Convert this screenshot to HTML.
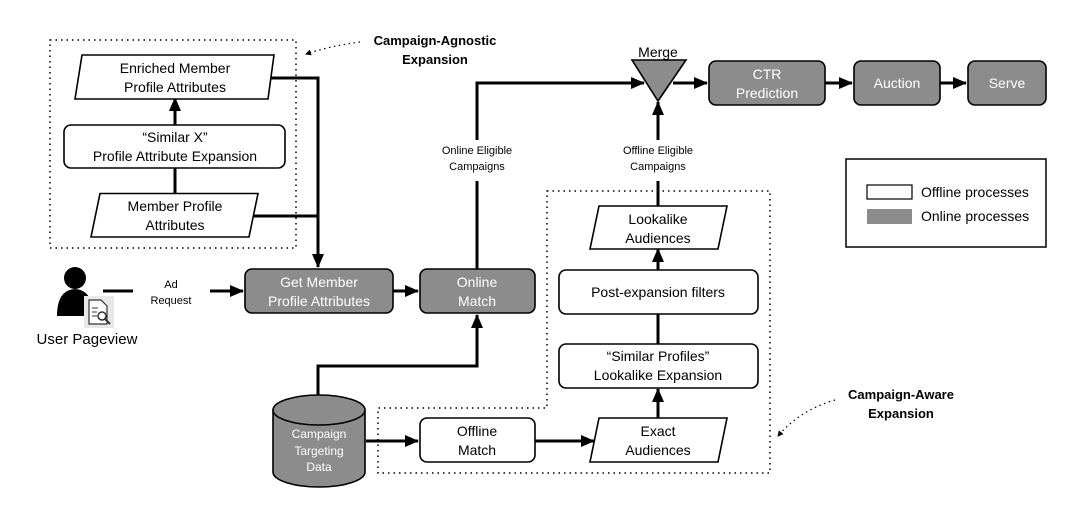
<!DOCTYPE html>
<html><head><meta charset="utf-8"><style>
html,body{margin:0;padding:0;background:#fff;}
svg{display:block;}
text{font-family:"Liberation Sans",sans-serif;}
</style></head><body>
<svg width="1080" height="510" viewBox="0 0 1080 510" xmlns="http://www.w3.org/2000/svg">
<defs>
<marker id="a" markerWidth="14" markerHeight="12" refX="13" refY="6" orient="auto" markerUnits="userSpaceOnUse" viewBox="0 0 14 12">
<path d="M0,0 L14,6 L0,12 z" fill="#000"/></marker>
<marker id="s" markerWidth="6" markerHeight="6" refX="5" refY="3" orient="auto" markerUnits="userSpaceOnUse" viewBox="0 0 6 6">
<path d="M0,0 L6,3 L0,6 z" fill="#000"/></marker>
</defs>
<g fill="none" stroke="#000" stroke-width="1.5" stroke-dasharray="1.5 4">
<rect x="50" y="40" width="246" height="208"/>
<path d="M547,191 H770 V473 H378 V408 H547 z"/>
</g>
<g fill="none" stroke="#000" stroke-width="1.2" stroke-dasharray="1.5 3.5">
<path d="M360,42 Q330,46 306,54" marker-end="url(#s)"/>
<path d="M835,400 Q800,410 778,436" marker-end="url(#s)"/>
</g>
<g stroke="#000" stroke-width="3" fill="none">
<path d="M270,78 H318 V267" marker-end="url(#a)"/>
<path d="M250,216 H318"/>
<path d="M175,193 V124" marker-end="url(#a)"/>
<path d="M175,125 V98" marker-end="url(#a)"/>
<path d="M103,291 H133"/>
<path d="M210,291 H243" marker-end="url(#a)"/>
<path d="M393,291 H418" marker-end="url(#a)"/>
<path d="M477,269 V181"/>
<path d="M477,140 V83 H644" marker-end="url(#a)"/>
<path d="M318,395 V366 H477 V315" marker-end="url(#a)"/>
<path d="M366,441 H418" marker-end="url(#a)"/>
<path d="M535,441 H594" marker-end="url(#a)"/>
<path d="M658,418 V389" marker-end="url(#a)"/>
<path d="M658,344 V314"/>
<path d="M658,270 V249" marker-end="url(#a)"/>
<path d="M658,206 V181"/>
<path d="M658,140 V102" marker-end="url(#a)"/>
<path d="M673,83 H707" marker-end="url(#a)"/>
<path d="M825,83 H852" marker-end="url(#a)"/>
<path d="M940,83 H966" marker-end="url(#a)"/>
</g>
<g stroke="#000" stroke-width="1.6" fill="#fff">
<path d="M82,55 H274 L268,99 H75 z"/>
<rect x="64" y="125" width="221" height="43" rx="7"/>
<path d="M100,193.5 H258 L249,237 H91 z"/>
<path d="M599,206 H727 L718,249 H590 z"/>
<rect x="559" y="270" width="199" height="44" rx="7"/>
<rect x="559" y="344" width="199" height="44" rx="7"/>
<path d="M599,418 H727 L718,462 H590 z"/>
<rect x="420" y="418" width="115" height="44" rx="7"/>
</g>
<g stroke="#000" stroke-width="1.6" fill="#8c8c8c">
<rect x="245" y="269" width="148" height="44" rx="7"/>
<rect x="420" y="269" width="115" height="44" rx="7"/>
<rect x="709" y="61" width="116" height="44" rx="7"/>
<rect x="854" y="61" width="86" height="44" rx="7"/>
<rect x="968" y="61" width="78" height="44" rx="7"/>
<path d="M632,60 H686 L658,101 z"/>
<path d="M273,410 V472 A46,15 0 0 0 365,472 V410"/>
<ellipse cx="319" cy="410" rx="46" ry="15"/>
</g>
<rect x="846" y="159" width="200" height="88" fill="#fff" stroke="#000" stroke-width="1.5"/>
<rect x="867" y="185" width="45" height="14" fill="#fff" stroke="#000" stroke-width="1.2"/>
<rect x="867" y="209" width="45" height="15" fill="#8c8c8c"/>
<circle cx="75" cy="278" r="11" fill="#000"/>
<path d="M57,316 Q57,290 75,289 Q93,290 93,316 z" fill="#000"/>
<rect x="84" y="296" width="30" height="32" fill="#e8e8e8"/>
<path d="M89,300 H101 L107,306 V324 H89 z" fill="#fff" stroke="#333" stroke-width="1.2"/>
<path d="M92,308 H98 M92,312 H97 M92,316 H97" stroke="#333" stroke-width="1"/>
<circle cx="102" cy="316" r="4" fill="#fff" stroke="#333" stroke-width="1.5"/>
<path d="M105,319 L110,324" stroke="#333" stroke-width="2"/>
<g fill="#000" font-size="14" text-anchor="middle">
<text x="175" y="73">Enriched Member</text>
<text x="175" y="92">Profile Attributes</text>
<text x="175" y="142">“Similar X”</text>
<text x="175" y="161">Profile Attribute Expansion</text>
<text x="175" y="211">Member Profile</text>
<text x="175" y="230">Attributes</text>
<text x="658" y="224">Lookalike</text>
<text x="658" y="243">Audiences</text>
<text x="658" y="297">Post-expansion filters</text>
<text x="658" y="361">“Similar Profiles”</text>
<text x="658" y="380">Lookalike Expansion</text>
<text x="658" y="436">Exact</text>
<text x="658" y="455">Audiences</text>
<text x="477" y="436">Offline</text>
<text x="477" y="455">Match</text>
<text x="658" y="57">Merge</text>
<text x="87" y="344" font-size="15">User Pageview</text>
</g>
<g fill="#000" font-size="11" text-anchor="middle">
<text x="171" y="288">Ad</text>
<text x="171" y="304">Request</text>
<text x="477" y="154">Online Eligible</text>
<text x="477" y="170">Campaigns</text>
<text x="658" y="154">Offline Eligible</text>
<text x="658" y="170">Campaigns</text>
</g>
<g fill="#fff" font-size="14" text-anchor="middle">
<text x="319" y="287">Get Member</text>
<text x="319" y="306">Profile Attributes</text>
<text x="477" y="287">Online</text>
<text x="477" y="306">Match</text>
<text x="767" y="79">CTR</text>
<text x="767" y="98">Prediction</text>
<text x="897" y="88">Auction</text>
<text x="1007" y="88">Serve</text>
</g>
<g fill="#fff" font-size="12" text-anchor="middle">
<text x="319" y="438">Campaign</text>
<text x="319" y="455">Targeting</text>
<text x="319" y="471">Data</text>
</g>
<g fill="#000" font-size="13" font-weight="bold" text-anchor="middle">
<text x="435" y="45">Campaign-Agnostic</text>
<text x="435" y="64">Expansion</text>
<text x="901" y="399">Campaign-Aware</text>
<text x="901" y="418">Expansion</text>
</g>
<g fill="#000" font-size="14">
<text x="921" y="197">Offline processes</text>
<text x="921" y="221">Online processes</text>
</g>
</svg>
</body></html>
